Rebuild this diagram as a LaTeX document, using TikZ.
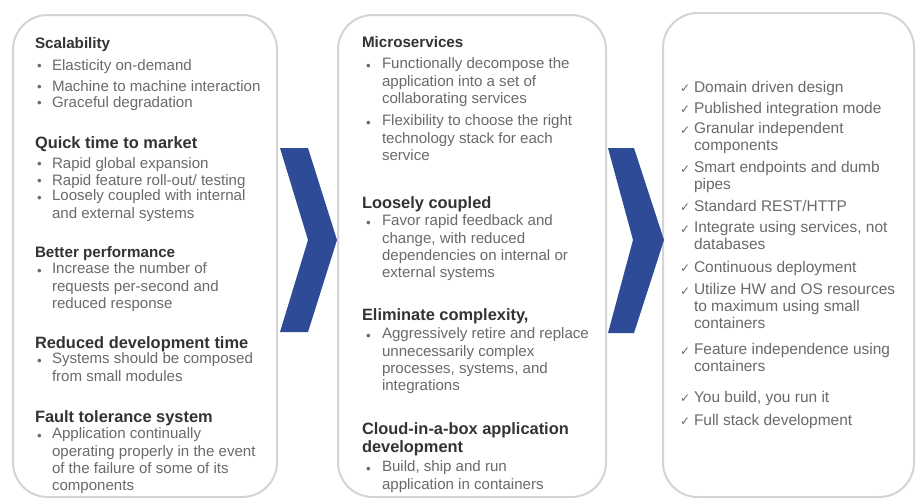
\documentclass[tikz,border=0pt]{standalone}
\usepackage{fontspec}
\setmainfont{Liberation Sans}
\newfontfamily\tickfont{DejaVu Sans}

\definecolor{panelline}{HTML}{D4D4D4}
\definecolor{chevblue}{HTML}{2D4B97}
\definecolor{headtext}{HTML}{333333}
\definecolor{bodytext}{HTML}{6A6A6A}

\tikzset{
  panel/.style={draw=panelline, line width=1.5pt, rounded corners=26pt, fill=white},
  chevron/.style={fill=chevblue},
  % first baseline sits on the given point
  line/.style={anchor=north west, inner sep=0pt, outer sep=0pt, align=left,
    yshift=9.1pt, execute at begin node=\strut},
  head/.style={line, text=headtext, font=\bfseries\fontsize{11.4}{13}\selectfont},
  bighead/.style={head, font=\bfseries\fontsize{12.3}{13}\selectfont},
  body/.style={line, text=bodytext, font=\fontsize{11.3}{13}\selectfont},
  rbody/.style={body, font=\fontsize{11.6}{13}\selectfont},
  dot/.style={line, text=bodytext, font=\fontsize{10}{13}\selectfont},
  tick/.style={line, text=bodytext, font=\tickfont\fontsize{9}{13}\selectfont},
}

\begin{document}
\begin{tikzpicture}[x=0.75pt, y=-0.75pt, line join=round]
  \useasboundingbox (0,0) rectangle (919,500);

  % panels
  \draw[panel] (13,15) rectangle (277,497);
  \draw[panel] (338,15) rectangle (606,497);
  \draw[panel] (663,13) rectangle (914,497);

  % chevrons
  \fill[chevron] (280,148) -- (308,148) -- (337,240) -- (308,332) -- (280,332) -- (308,240) -- cycle;
  \fill[chevron] (608,148) -- (634,148) -- (664,240) -- (634,333) -- (608,333) -- (633,240) -- cycle;

  % left panel
  \node[head] (scal) at (35,48) {Scalability};
  \node[dot] (scal1b) at (37,70) {•};
  \node[body] (scal1) at (52,70) {Elasticity on-demand};
  \node[dot] (scal2b) at (37,91) {•};
  \node[body] (scal2) at (52,91) {Machine to machine interaction};
  \node[dot] (scal3b) at (37,107) {•};
  \node[body] (scal3) at (52,107) {Graceful degradation};

  \node[bighead] (quick) at (35,148) {Quick time\ to market};
  \node[dot] (quick1b) at (37,168) {•};
  \node[body] (quick1) at (52,168) {Rapid global expansion};
  \node[dot] (quick2b) at (37,185) {•};
  \node[body] (quick2) at (52,185) {Rapid feature roll-out/ testing};
  \node[dot] (quick3b) at (37,202) {•};
  \node[body] (quick3) at (52,202) {Loosely coupled with internal\\and external systems};

  \node[head] (perf) at (35,257) {Better performance};
  \node[dot] (perf1b) at (37,275) {•};
  \node[body] (perf1) at (52,275) {Increase the number of\\requests per-second and\\reduced response};

  \node[bighead] (redu) at (35,348) {Reduced\ development\ time};
  \node[dot] (redu1b) at (37,365) {•};
  \node[body] (redu1) at (52,365) {Systems should be composed\\from small modules};

  \node[bighead] (fault) at (35,422) {Fault tolerance system};
  \node[dot] (fault1b) at (37,440) {•};
  \node[body] (fault1) at (52,440) {Application continually\\operating properly in the event\\of the failure of some of its\\components};

  % middle panel
  \node[head] (micro) at (362,47) {Microservices};
  \node[dot] (micro1b) at (366,70) {•};
  \node[body] (micro1) at (382,70) {Functionally decompose the\\application into a set of\\collaborating services};
  \node[dot] (micro2b) at (366,127) {•};
  \node[body] (micro2) at (382,127) {Flexibility to choose the right\\technology stack for each\\service};

  \node[bighead] (loose) at (362,208) {Loosely coupled};
  \node[dot] (loose1b) at (366,227) {•};
  \node[body] (loose1) at (382,227) {Favor rapid feedback and\\change, with reduced\\dependencies on internal or\\external systems};

  \node[bighead] (elim) at (362,320) {Eliminate\ complexity,};
  \node[dot] (elim1b) at (366,340) {•};
  \node[body] (elim1) at (382,340) {Aggressively retire and replace\\unnecessarily complex\\processes, systems, and\\integrations};

  \node[bighead] (cloud) at (362,435) {Cloud-in-a-box\ application\\development};
  \node[dot] (cloud1b) at (366,473) {•};
  \node[body] (cloud1) at (382,473) {Build, ship and run\\application\ in containers};

  % right panel
  \node[tick] (pr1b) at (680,92) {✓};
  \node[rbody] (pr1) at (694,92) {Domain driven design};
  \node[tick] (pr2b) at (680,113) {✓};
  \node[rbody] (pr2) at (694,113) {Published integration mode};
  \node[tick] (pr3b) at (680,134) {✓};
  \node[rbody] (pr3) at (694,134) {Granular independent\\components};
  \node[tick] (pr4b) at (680,173) {✓};
  \node[rbody] (pr4) at (694,173) {Smart endpoints and dumb\\pipes};
  \node[tick] (pr5b) at (680,211) {✓};
  \node[rbody] (pr5) at (694,211) {Standard REST/HTTP};
  \node[tick] (pr6b) at (680,233) {✓};
  \node[rbody] (pr6) at (694,233) {Integrate using services, not\\databases};
  \node[tick] (pr7b) at (680,272) {✓};
  \node[rbody] (pr7) at (694,272) {Continuous deployment};
  \node[tick] (pr8b) at (680,295) {✓};
  \node[rbody] (pr8) at (694,295) {Utilize HW and OS resources\\to maximum using small\\containers};
  \node[tick] (pr9b) at (680,355) {✓};
  \node[rbody] (pr9) at (694,355) {Feature independence using\\containers};
  \node[tick] (pr10b) at (680,402) {✓};
  \node[rbody] (pr10) at (694,402) {You build, you run it};
  \node[tick] (pr11b) at (680,425) {✓};
  \node[rbody] (pr11) at (694,425) {Full stack development};
\end{tikzpicture}
\end{document}
